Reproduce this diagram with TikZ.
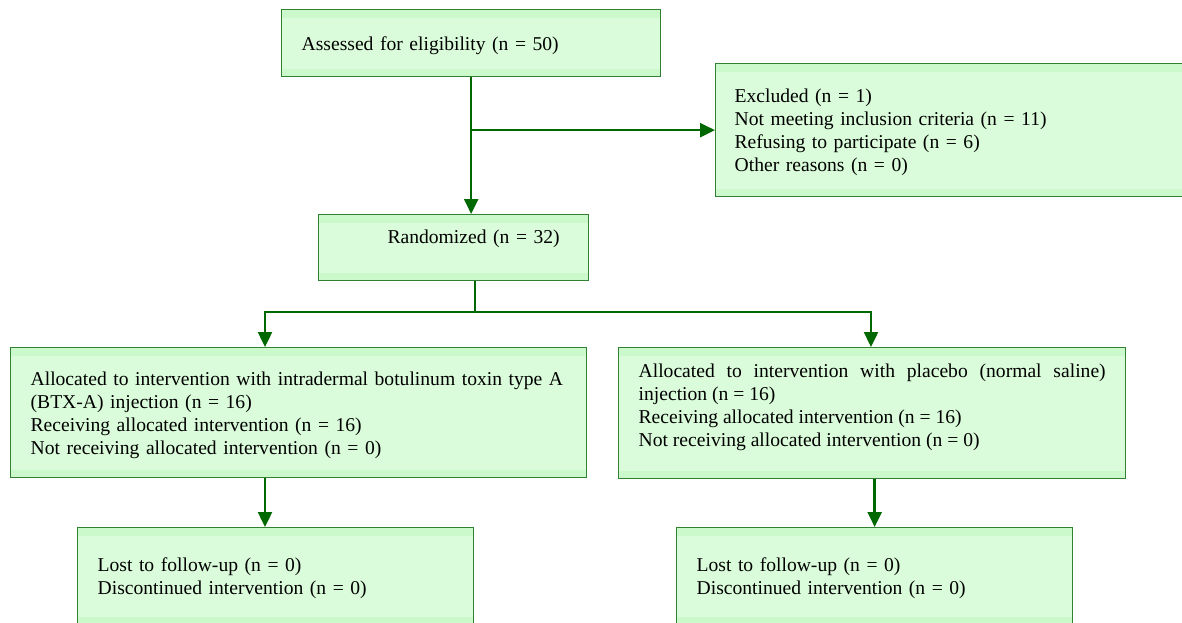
\documentclass[tikz,border=0pt]{standalone}
\usepackage{fontspec}
\setmainfont{Liberation Serif}
\usepackage{tikz}
\usetikzlibrary{arrows.meta}
\definecolor{boxgreen}{RGB}{218,252,218}
\definecolor{bandgreen}{RGB}{204,249,204}
\definecolor{edgegreen}{RGB}{50,128,50}
\definecolor{arrowgreen}{RGB}{0,104,0}

\begin{document}
\begin{tikzpicture}[x=1pt,y=-1pt,
  box/.style={draw=edgegreen,line width=1.3pt,fill=boxgreen,anchor=north west,
    inner xsep=20pt,inner ysep=0pt,align=left,text height=18.4pt,
    font=\fontsize{19.6}{23}\selectfont,
    path picture={
      \fill[bandgreen] (path picture bounding box.north west) rectangle
        ([yshift=-8pt]path picture bounding box.north east);
      \fill[bandgreen] (path picture bounding box.south west) rectangle
        ([yshift=8pt]path picture bounding box.south east);}},
  arr/.style={draw=arrowgreen,line width=2.4pt,-{Triangle[width=14pt,length=15pt]}},
  link/.style={draw=arrowgreen,line width=2.4pt}]
\useasboundingbox (0,0) rectangle (1182,622);
\clip (0,0) rectangle (1182,622);

\node[box,minimum width=379pt,minimum height=67pt,text width=339pt] (assess) at (281,9)
  {Assessed for eligibility (n = 50)};
\node[box,minimum width=480pt,minimum height=133pt,text width=442pt,inner xsep=19pt] (excl) at (715,63)
  {Excluded (n = 1)\\Not meeting inclusion criteria (n = 11)\\Refusing to participate (n = 6)\\Other reasons (n = 0)};
\node[box,minimum width=270pt,minimum height=66pt,text width=230pt,align=center,text depth=26.5pt] (rand) at (318,214)
  {\hspace*{40pt}Randomized (n = 32)};
\node[box,minimum width=576pt,minimum height=130pt,text width=536pt] (allocA) at (10,347)
  {\mbox{Allocated to intervention with intradermal botulinum toxin type A}\\(BTX-A) injection (n = 16)\\Receiving allocated intervention (n = 16)\\Not receiving allocated intervention (n = 0)};
\node[box,minimum width=507pt,minimum height=131pt,text width=467pt,align=justify,text depth=90.3pt] (allocB) at (618,347)
  {Allocated to intervention with placebo (normal saline) \linebreak injection (n = 16)\\Receiving allocated intervention (n = 16)\\Not receiving allocated intervention (n = 0)};
\node[box,minimum width=396pt,minimum height=97pt,text width=356pt] (lostA) at (77,527)
  {Lost to follow-up (n = 0)\\Discontinued intervention (n = 0)};
\node[box,minimum width=396pt,minimum height=97pt,text width=356pt] (lostB) at (676,527)
  {Lost to follow-up (n = 0)\\Discontinued intervention (n = 0)};

\coordinate (split) at (475,312);
\coordinate (splitL) at (265,312);
\coordinate (splitR) at (871,312);

\draw[arr] (assess.south) -- (assess.south |- rand.north);
\draw[arr] (assess.south |- excl.west) -- (excl.west);
\draw[link] (rand.south -| split) -- (split);
\draw[arr] (split) -| (splitL |- allocA.north);
\draw[arr] (split) -| (splitR |- allocB.north);
\draw[arr] (allocA.south -| splitL) -- (splitL |- lostA.north);
\draw[arr] (allocB.south -| lostB.north) -- (lostB.north);

\end{tikzpicture}
\end{document}
